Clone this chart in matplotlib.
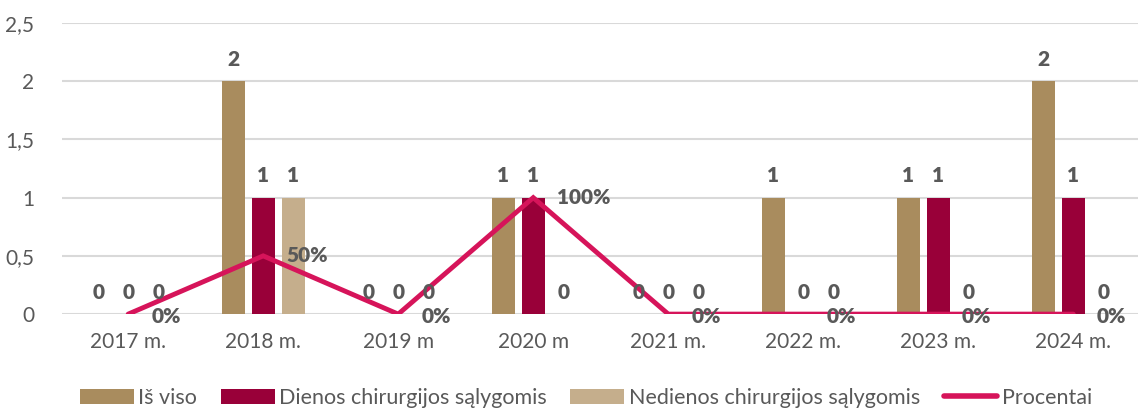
import matplotlib
matplotlib.use("Agg")
import matplotlib.pyplot as plt
from matplotlib.ticker import FuncFormatter
import numpy as np

years = ["2017 m.", "2018 m.", "2019 m", "2020 m", "2021 m.", "2022 m.", "2023 m.", "2024 m."]
is_viso = [0, 2, 0, 1, 0, 1, 1, 2]
dienos = [0, 1, 0, 1, 0, 0, 1, 1]
nedienos = [0, 1, 0, 0, 0, 0, 0, 0]
procentai = [0, 0.5, 0, 1, 0, 0, 0, 0]
proc_labels = ["0%", "50%", "0%", "100%", "0%", "0%", "0%", "0%"]

plt.rcParams["font.family"] = ["Lato", "DejaVu Sans"]
txt = "#595959"

fig = plt.figure(figsize=(11.38, 4.09), dpi=100)
ax = fig.add_axes([0.0545, 0.232, 0.948, 0.712])

x = np.arange(len(years))
w = 0.17
off = 0.222
series = [(is_viso, "#A98C5E", "Iš viso"),
          (dienos, "#990039", "Dienos chirurgijos sąlygomis"),
          (nedienos, "#C5AE8C", "Nedienos chirurgijos sąlygomis")]
for i, (vals, col, name) in enumerate(series):
    pos = x + (i - 1) * off
    ax.bar(pos, vals, width=w, color=col, label=name, zorder=2)
    for px, v in zip(pos, vals):
        ax.annotate(str(v), (px, v), xytext=(0, 9), textcoords="offset points",
                    ha="center", va="bottom", fontsize=15, fontweight="heavy", color=txt, zorder=4)

ax.plot(x, procentai, color="#D6145A", lw=3.5, solid_capstyle="round",
        solid_joinstyle="miter", label="Procentai", zorder=3)
for px, v, lab in zip(x, procentai, proc_labels):
    dy = -2 if v == 0 else 0
    ax.annotate(lab, (px, v), xytext=(17, dy), textcoords="offset points",
                ha="left", va="center", fontsize=15, fontweight="heavy", color=txt, zorder=4)

ax.set_xlim(-0.49, 7.5)
ax.set_ylim(0, 2.5)
ax.set_yticks([0, 0.5, 1, 1.5, 2, 2.5])
ax.yaxis.set_major_formatter(FuncFormatter(lambda v, p: ("%g" % v).replace(".", ",")))
ax.set_xticks(x)
ax.set_xticklabels(years)
ax.tick_params(length=0, labelsize=15, colors=txt, pad=13)
ax.tick_params(axis="y", pad=20)
ax.grid(axis="y", color="#D9D9D9", lw=1.5, zorder=0)
ax.set_axisbelow(True)
for s in ax.spines.values():
    s.set_visible(False)

h, l = ax.get_legend_handles_labels()
order = [1, 2, 3, 0]
leg = fig.legend([h[i] for i in order], [l[i] for i in order], loc="lower center",
                 bbox_to_anchor=(0.515, -0.045), ncol=4, frameon=False, fontsize=15.5,
                 labelcolor=txt, handlelength=2.5, handleheight=0.75, handletextpad=0.2,
                 columnspacing=1.1)
leg.get_lines()[0].set_linewidth(4)

fig.savefig("out.png", dpi=100)
